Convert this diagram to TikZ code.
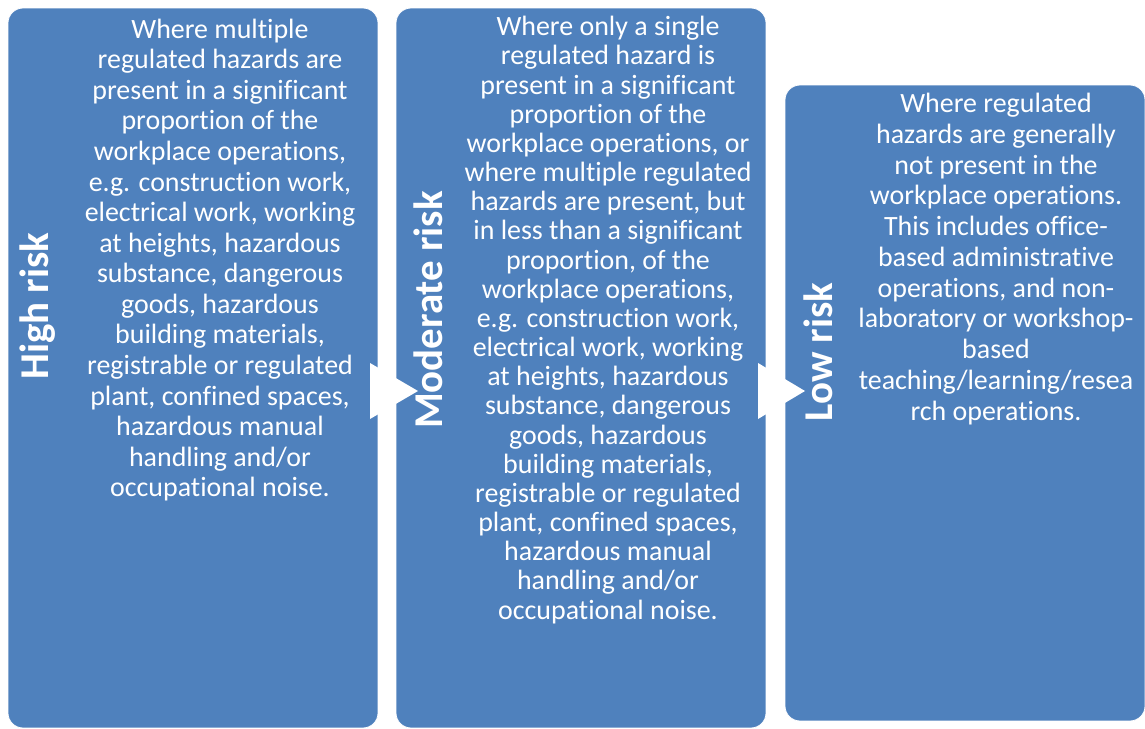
\documentclass[tikz,border=0pt]{standalone}
\usepackage{fontspec}
\setmainfont{Carlito}[Ligatures=NoCommon]
\usepackage{tikz}
\usetikzlibrary{positioning}
\definecolor{riskblue}{HTML}{4F81BD}

\begin{document}
\begin{tikzpicture}[x=0.02cm, y=-0.02cm]
        \useasboundingbox (0,0) rectangle (1145,729);

        % Boxes
        \node[rectangle, rounded corners=0.3cm, fill=riskblue, draw=white, minimum width=7.4cm, minimum height=14.4cm] (high) at (193,368) {};
        \node[rectangle, rounded corners=0.3cm, fill=riskblue, draw=white, minimum width=7.4cm, minimum height=14.4cm] (moderate) at (581,368) {};
        \node[rectangle, rounded corners=0.3cm, fill=riskblue, draw=white, minimum width=7.2cm, minimum height=12.72cm] (low) at (965,403) {};

        % Arrows
        \fill[white] (370,363) -- (418,391) -- (370,419) -- cycle;
        \fill[white] (758,363) -- (805,391) -- (758,419) -- cycle;

        % Labels
        \node[rotate=90, text=white, font=\bfseries\fontsize{23.3}{27}\selectfont] (highlabel) at (38,306) {High risk};
        \node[rotate=90, text=white, font=\bfseries\fontsize{23.3}{27}\selectfont] (moderatelabel) at (428,310) {Moderate risk};
        \node[rotate=90, text=white, font=\bfseries\fontsize{23.3}{27}\selectfont] (lowlabel) at (818,352) {Low risk};

        % Texts
        \node[align=center, text=white, font=\fontsize{15.9}{17.4}\selectfont] (hightext) at (220,260) {Where multiple\\regulated hazards are\\present in a significant\\proportion of the\\workplace operations,\\e.g. construction work,\\electrical work, working\\at heights, hazardous\\substance, dangerous\\goods, hazardous\\building materials,\\registrable or regulated\\plant, confined spaces,\\hazardous manual\\handling and/or\\occupational noise.};
        \node[align=center, text=white, font=\fontsize{15.9}{16.6}\selectfont] (moderatetext) at (608,320) {Where only a single\\regulated hazard is\\present in a significant\\proportion of the\\workplace operations, or\\where multiple regulated\\hazards are present, but\\in less than a significant\\proportion, of the\\workplace operations,\\e.g. construction work,\\electrical work, working\\at heights, hazardous\\substance, dangerous\\goods, hazardous\\building materials,\\registrable or regulated\\plant, confined spaces,\\hazardous manual\\handling and/or\\occupational noise.};
        \node[align=center, text=white, font=\fontsize{15.9}{17.5}\selectfont] (lowtext) at (996,259) {Where regulated\\hazards are generally\\not present in the\\workplace operations.\\This includes office-\\based administrative\\operations, and non-\\laboratory or workshop-\\based\\teaching/learning/resea\\rch operations.};
    \end{tikzpicture}
\end{document}
